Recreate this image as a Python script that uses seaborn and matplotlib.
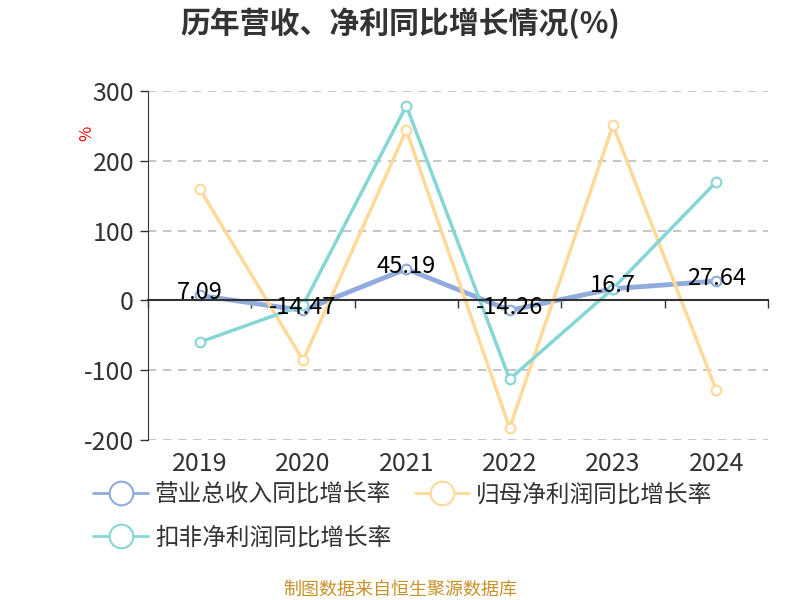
import pandas as pd
import numpy as np
import seaborn as sns
import matplotlib.pyplot as plt
from matplotlib.lines import Line2D

# dati
anni = ["2019", "2020", "2021", "2022", "2023", "2024"]
ricavi = [7.09, -14.47, 45.19, -14.26, 16.7, 27.64]
utile_netto = [160, -86, 244, -183, 251, -129]
utile_non_ricorrente = [-60, -7, 279, -113, 17, 170]
nomi = ["营业总收入同比增长率", "归母净利润同比增长率", "扣非净利润同比增长率"]
colori = ["#91acdc", "#ffd997", "#86d6d6"]

sns.set_style("white")
plt.rcParams['font.family'] = ['Noto Sans CJK SC', 'DejaVu Sans']
plt.rcParams['axes.unicode_minus'] = False

fig = plt.figure(figsize=(8, 6), dpi=100)
ax = fig.add_axes([0.185, 0.267, 0.775, 0.581])

x = np.arange(len(anni))
serie = [ricavi, utile_netto, utile_non_ricorrente]
spessori = [3.5, 2.5, 2.5]
for valori, nome, col, lw in zip(serie, nomi, colori, spessori):
    sns.lineplot(x=x, y=valori, ax=ax, color=col, linewidth=lw, legend=False,
                 marker="o", markersize=7, markerfacecolor="white",
                 markeredgecolor=col, markeredgewidth=1.5)

# etichette del fatturato
for xi, v in zip(x, ricavi):
    ax.text(xi, v + 4, f"{v:g}", ha="center", va="center", fontsize=17,
            color="black", zorder=5)

ax.set_xlim(-0.5, 5.5)
ax.set_ylim(-200, 300)
ax.set_yticks([-200, -100, 0, 100, 200, 300])
ax.tick_params(axis="y", labelsize=18, colors="#333333", length=6, width=1,
               direction="out", left=True, pad=4)
for v in [-200, -100, 100, 200, 300]:
    ax.axhline(v, color="#bbbbbb", linestyle=(0, (5, 4)), linewidth=1.2, zorder=0)

for s in ["top", "right"]:
    ax.spines[s].set_visible(False)
ax.spines["left"].set_color("#333333")
ax.spines["bottom"].set_position(("data", 0))
ax.spines["bottom"].set_color("#333333")
ax.spines["bottom"].set_linewidth(1.5)
ax.set_xticks(np.arange(-0.5, 6, 1))
ax.set_xticklabels([])
ax.tick_params(axis="x", length=6, width=1, colors="#333333", direction="out",
               bottom=True)

sec = ax.secondary_xaxis(0.0)
sec.set_xticks(x)
sec.set_xticklabels(anni)
sec.tick_params(length=0, labelsize=18, colors="#333333", pad=8)
sec.spines["bottom"].set_visible(False)

ax.set_ylabel("%", color="red", fontsize=12, rotation=90)
ax.yaxis.set_label_coords(-0.085, 0.88)

# legenda (ordine per righe)
maniglie = [Line2D([], [], color=c, linewidth=2, marker="o", markersize=17,
                   markerfacecolor="white", markeredgecolor=c, markeredgewidth=1.5)
            for c in colori]
ordine = [0, 2, 1]
fig.legend([maniglie[i] for i in ordine], [nomi[i] for i in ordine],
           loc="upper left", bbox_to_anchor=(0.105, 0.21), ncol=2,
           frameon=False, fontsize=17, labelcolor="#333333", handlelength=2.3,
           columnspacing=1.0, handletextpad=0.3, labelspacing=0.85,
           borderaxespad=0)

fig.text(0.5, 0.962, "历年营收、净利同比增长情况(%)", ha="center", va="center",
         fontsize=21.5, fontweight="bold", color="#333333")
fig.text(0.5, 0.017, "制图数据来自恒生聚源数据库", ha="center", va="center",
         fontsize=13, color="#c8922b")

plt.savefig("out.png", dpi=100)
